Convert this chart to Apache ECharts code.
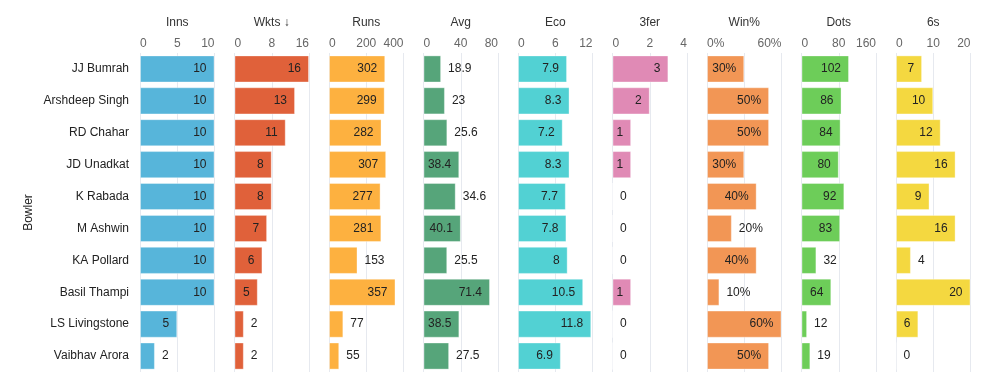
<!DOCTYPE html>
<html>
<head>
<meta charset="utf-8">
<script src="https://cdn.jsdelivr.net/npm/echarts@6/dist/echarts.min.js"></script>
<style>
html,body{margin:0;padding:0;background:#fff;}
#chart{width:992px;height:387px;}
</style>
</head>
<body>
<div id="chart"></div>
<script>
const bowlers = ['JJ Bumrah','Arshdeep Singh','RD Chahar','JD Unadkat','K Rabada','M Ashwin','KA Pollard','Basil Thampi','LS Livingstone','Vaibhav Arora'];
const inns  = [10,10,10,10,10,10,10,10,5,2];
const wkts  = [16,13,11,8,8,7,6,5,2,2];
const runs  = [302,299,282,307,277,281,153,357,77,55];
const avg   = [18.9,23,25.6,38.4,34.6,40.1,25.5,71.4,38.5,27.5];
const eco   = [7.9,8.3,7.2,8.3,7.7,7.8,8,10.5,11.8,6.9];
const threeFer = [3,2,1,1,0,0,0,1,0,0];
const winPct = [30,50,50,30,40,20,40,10,60,50];
const dots  = [102,86,84,80,92,83,32,64,12,19];
const sixes = [7,10,12,16,9,16,4,20,6,0];

const panelTitles = ['Inns','Wkts \u2193','Runs','Avg','Eco','3fer','Win%','Dots','6s'];
const panelData = [inns,wkts,runs,avg,eco,threeFer,winPct,dots,sixes];
const panelMax = [10,16,400,80,12,4,60,160,20];
const panelInterval = [5,8,200,40,6,2,30,80,10];
const panelColors = ['#57b5da','#e0613a','#fdb140','#56a57a','#52d1d3','#e08ab5','#f29655','#6dcd59','#f4d840'];
const isPct = [false,false,false,false,false,false,true,false,false];

const FONT = '"Liberation Sans", Arial, sans-serif';
const gLeft0 = 140, gPitch = 94.5, gWidth = 74.5, gTop = 53, gBottom = 15;

const measureCtx = document.createElement('canvas').getContext('2d');
measureCtx.font = '12px ' + FONT;
function textW(s){ return measureCtx.measureText(s).width; }

const chart = echarts.init(document.getElementById('chart'));
const grids = [], xAxes = [], yAxes = [], seriesList = [];
panelData.forEach((arr, i) => {
  grids.push({left: gLeft0 + i*gPitch, width: gWidth, top: gTop, bottom: gBottom, containLabel: false});
  const pct = isPct[i];
  xAxes.push({
    type: 'value', gridIndex: i, position: 'top', min: 0, max: panelMax[i], interval: panelInterval[i],
    name: panelTitles[i], nameLocation: 'middle', nameGap: 24,
    nameTextStyle: {fontFamily: FONT, fontSize: 12, color: '#333'},
    axisLine: {show: false}, axisTick: {show: false},
    axisLabel: {fontFamily: FONT, fontSize: 12, color: '#666', margin: 3,
      alignMinLabel: 'left', alignMaxLabel: 'right',
      formatter: v => pct ? (v === 30 ? '' : v + '%') : String(v)},
    splitLine: {show: true, lineStyle: {color: '#e6e9ef', width: 1}}
  });
  yAxes.push({
    type: 'category', gridIndex: i, data: bowlers, inverse: true,
    axisLine: {show: false}, axisTick: {show: false},
    axisLabel: {show: i === 0, fontFamily: FONT, fontSize: 12, color: '#222', margin: 11},
    name: i === 0 ? 'Bowler' : '', nameLocation: 'middle', nameGap: 105, nameRotate: 90,
    nameTextStyle: {fontFamily: FONT, fontSize: 12, color: '#222'}
  });
  const data = arr.map(v => {
    const txt = pct ? v + '%' : String(v);
    const barPx = v / panelMax[i] * gWidth;
    const inside = barPx >= textW(txt) + 11;
    return {
      value: v,
      label: inside ? {position: 'insideRight', distance: 8} : {position: 'right', distance: 7}
    };
  });
  seriesList.push({
    type: 'bar', xAxisIndex: i, yAxisIndex: i, data: data,
    barCategoryGap: '15%',
    itemStyle: {color: panelColors[i], borderColor: 'rgba(255,255,255,0.35)', borderWidth: 1},
    label: {show: true, fontFamily: FONT, fontSize: 12, color: '#222',
      formatter: p => pct ? p.value + '%' : String(p.value)},
    silent: true, animation: false
  });
});

chart.setOption({animation: false, grid: grids, xAxis: xAxes, yAxis: yAxes, series: seriesList});
</script>
</body>
</html>
